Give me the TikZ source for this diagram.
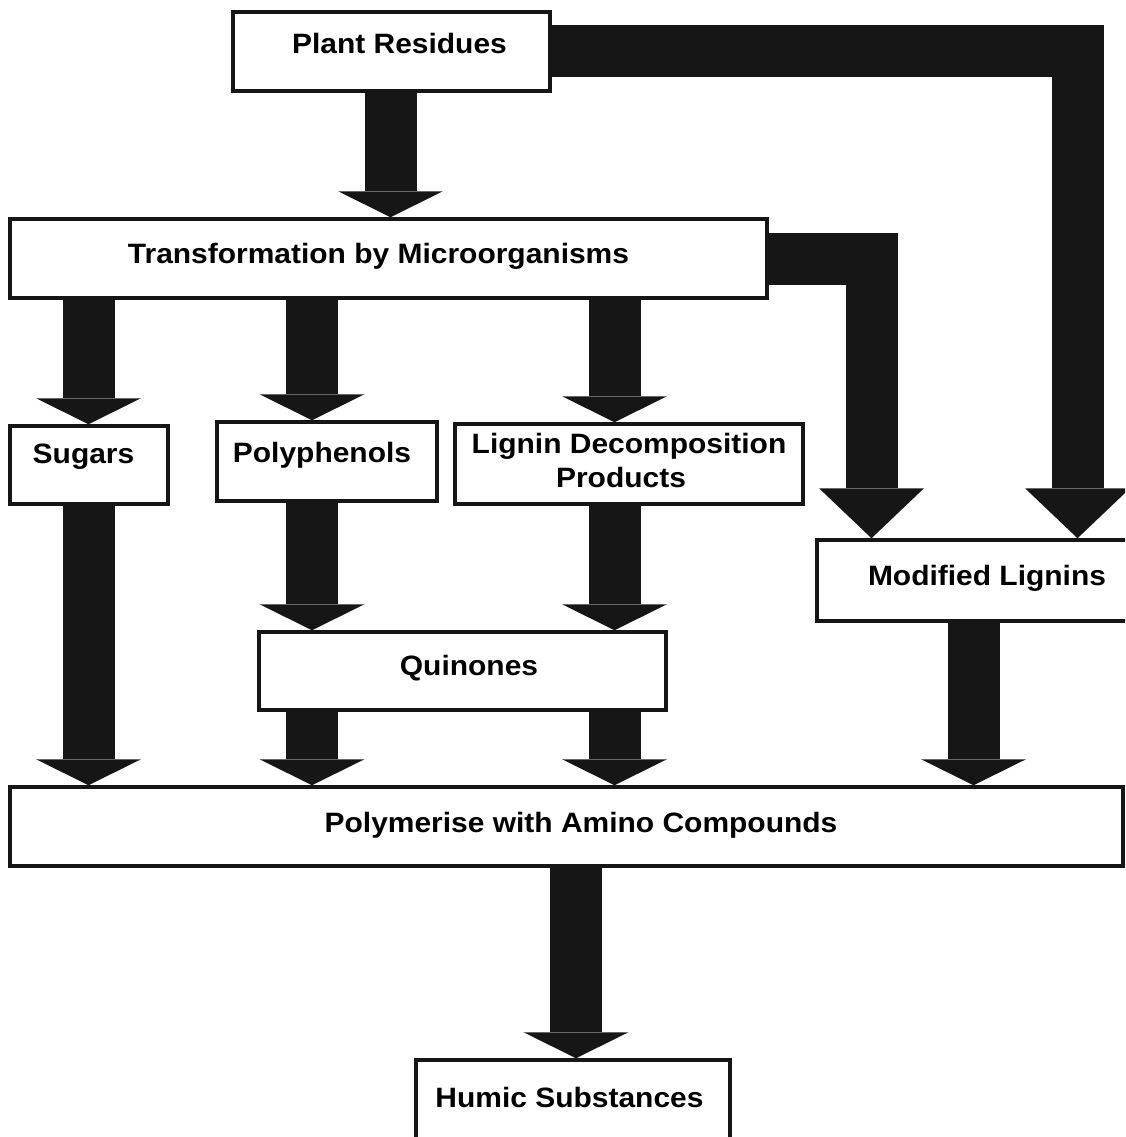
\documentclass[tikz,border=0pt]{standalone}
\usepackage{fontspec}
\newfontfamily\lab{Liberation Sans}[FakeStretch=1.07]
\usetikzlibrary{arrows.meta,calc}
\definecolor{ink}{RGB}{22,22,22}
\begin{document}
\begin{tikzpicture}[x=1pt,y=-1pt,
  box/.style={draw=ink, line width=3.5pt, fill=white, inner sep=0pt,
    font=\lab\bfseries\fontsize{28pt}{34pt}\selectfont, text height=21pt},
  barrow/.style={draw=ink, line width=52pt, line cap=butt, line join=miter,
    -{Triangle[width=105pt,length=26pt,line width=0pt]}},
  longhead/.style={-{Triangle[width=105pt,length=50pt,line width=0pt]}}
]
\useasboundingbox (0,0) rectangle (1125,1137);
\clip (0,0) rectangle (1125,1137);
\fill[white] (0,0) rectangle (1125,1137);

% column / row helper coordinates
\coordinate (c1) at (88.5,0);
\coordinate (c2) at (312,0);
\coordinate (c3) at (614.5,0);
\coordinate (c4) at (871.5,0);
\coordinate (c5) at (1077.5,0);
\coordinate (c6) at (973.5,0);
\coordinate (c7) at (576,0);
\coordinate (c8) at (390.5,0);

% boxes
\node[box, minimum width=317pt, minimum height=79pt, text depth=16pt] (pr) at (391.5,51.5) {\hspace*{16pt}Plant Residues};
\node[box, minimum width=757pt, minimum height=79pt, text depth=12pt] (tm) at (388.5,258.5) {Transformation by Microorganisms\hspace*{20pt}};
\node[box, minimum width=158pt, minimum height=78pt, text depth=25pt] (su) at (89,465) {Sugars\hspace*{11pt}};
\node[box, minimum width=220pt, minimum height=79pt, text depth=20pt] (pp) at (327,461.5) {Polyphenols\hspace*{10pt}};
\node[box, minimum width=348pt, minimum height=80pt, align=center, text height=55pt, text depth=8pt] (ld) at (629,464) {Lignin Decomposition\\Products\hspace*{16pt}};
\node[box, minimum width=318pt, minimum height=81pt, text depth=12pt] (ml) at (976,580.5) {\hspace*{22pt}Modified Lignins};
\node[box, minimum width=407pt, minimum height=78pt, text depth=13pt] (qu) at (462.5,671) {\hspace*{13pt}Quinones};
\node[box, minimum width=1113pt, minimum height=79pt, text depth=10pt] (pm) at (566.5,826.5) {\hspace*{29pt}Polymerise with Amino Compounds};
\node[box, minimum width=314pt, minimum height=90pt, text depth=16pt] (hs) at (573,1105) {Humic Substances\hspace*{7pt}};

% connectors
\draw[barrow] (pr.south -| c8) -- (tm.north -| c8);
\draw[barrow,longhead] (pr.east) -- (pr.east -| c5) -- (ml.north -| c5);
\draw[barrow,longhead] (tm.east) -- (tm.east -| c4) -- (ml.north -| c4);
\draw[barrow] (tm.south -| c1) -- (su.north -| c1);
\draw[barrow] (tm.south -| c2) -- (pp.north -| c2);
\draw[barrow] (tm.south -| c3) -- (ld.north -| c3);
\draw[barrow] (su.south -| c1) -- (pm.north -| c1);
\draw[barrow] (pp.south -| c2) -- (qu.north -| c2);
\draw[barrow] (ld.south -| c3) -- (qu.north -| c3);
\draw[barrow] (qu.south -| c2) -- (pm.north -| c2);
\draw[barrow] (qu.south -| c3) -- (pm.north -| c3);
\draw[barrow] (ml.south -| c6) -- (pm.north -| c6);
\draw[barrow] (pm.south -| c7) -- (hs.north -| c7);
\end{tikzpicture}
\end{document}
